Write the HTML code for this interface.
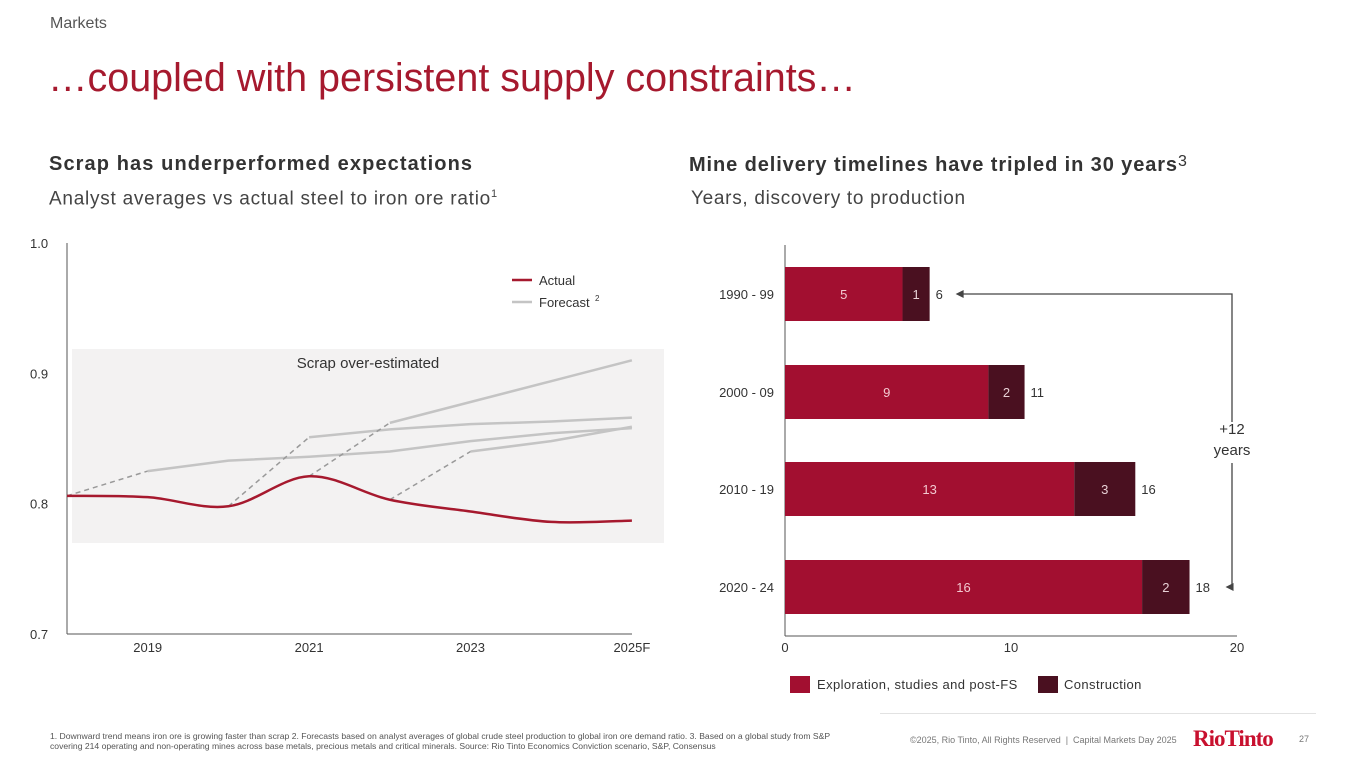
<!DOCTYPE html>
<html><head><meta charset="utf-8"><style>
body{margin:0;width:1365px;height:768px;background:#fff;font-family:"Liberation Sans",sans-serif;overflow:hidden;position:relative}
.t{position:absolute;white-space:nowrap}
</style></head><body>
<div class="t" style="left:50px;top:15px;font-size:16px;color:#555">Markets</div>
<div class="t" style="left:48px;top:56px;font-size:39.5px;color:#A6192E">…coupled with persistent supply constraints…</div>
<div class="t" style="left:49px;top:153px;font-size:20px;font-weight:bold;color:#333;letter-spacing:1.1px">Scrap has underperformed expectations</div>
<div class="t" style="left:49px;top:188px;font-size:19px;color:#444;letter-spacing:0.75px">Analyst averages vs actual steel to iron ore ratio<sup style="font-size:11px">1</sup></div>
<div class="t" style="left:689px;top:153px;font-size:20px;font-weight:bold;color:#333;letter-spacing:0.9px">Mine delivery timelines have tripled in 30 years<span style="font-weight:normal;font-size:16px;vertical-align:5px">3</span></div>
<div class="t" style="left:691px;top:188px;font-size:19px;color:#444;letter-spacing:0.7px">Years, discovery to production</div>

<svg id="left" width="680" height="680" style="position:absolute;left:0;top:0" font-family="Liberation Sans, sans-serif"></svg>
<svg id="right" width="1365" height="720" style="position:absolute;left:0;top:0" font-family="Liberation Sans, sans-serif"></svg>

<div class="t" style="left:50px;top:731px;font-size:8.6px;color:#555;line-height:10px">1. Downward trend means iron ore is growing faster than scrap 2. Forecasts based on analyst averages of global crude steel production to global iron ore demand ratio. 3. Based on a global study from S&amp;P<br>covering 214 operating and non-operating mines across base metals, precious metals and critical minerals. Source: Rio Tinto Economics Conviction scenario, S&amp;P, Consensus</div>
<div style="position:absolute;left:880px;top:713px;width:436px;height:1px;background:#e2e2e2"></div>
<div class="t" style="left:910px;top:735px;font-size:9px;color:#777">©2025, Rio Tinto, All Rights Reserved &nbsp;|&nbsp; Capital Markets Day 2025</div>
<div class="t" style="left:1193px;top:726px;font-size:23px;font-weight:bold;font-family:'Liberation Serif',serif;color:#C8102E;letter-spacing:-1px">RioTinto</div>
<div class="t" style="left:1299px;top:734px;font-size:9px;color:#777">27</div>

<script>
// ---- Left chart data ----
const years=[2018,2019,2020,2021,2022,2023,2024,2025];
const xTickLabels=["2019","2021","2023","2025F"];
const xTickYears=[2019,2021,2023,2025];
const yTicks=[0.7,0.8,0.9,1.0];
const actual=[0.806,0.805,0.798,0.821,0.803,0.794,0.786,0.787];
const f1Years=[2019,2020,2021,2022,2023,2024,2025], f1=[0.825,0.833,0.836,0.840,0.848,0.854,0.858], f1Start=2018;
const f2Years=[2021,2022,2023,2024,2025], f2=[0.851,0.857,0.861,0.863,0.866], f2Start=2020;
const f3Years=[2022,2023,2024,2025], f3=[0.862,0.878,0.894,0.910], f3Start=2021;
const f4Years=[2023,2024,2025], f4=[0.840,0.848,0.859], f4Start=2022;

// ---- Right chart data ----
const periods=["1990 - 99","2000 - 09","2010 - 19","2020 - 24"];
const exploration=[5.2,9.0,12.8,15.8];
const construction=[1.2,1.6,2.7,2.1];
const xTicksR=[0,10,20];

const NS="http://www.w3.org/2000/svg";
function mk(svg,tag,attrs,txt){const e=document.createElementNS(NS,tag);for(const k in attrs)e.setAttribute(k,attrs[k]);if(txt!==undefined)e.textContent=txt;svg.appendChild(e);return e;}

// Left
const L=document.getElementById('left');
const xL=y=>67+(y-2018)*80.7;
const yL=v=>634-(v-0.7)/0.3*391;
let e;
e=mk(L,'rect',{x:72,y:349,width:592,height:194,fill:'#F3F2F2'});


e=mk(L,'text',{x:368,y:368,'font-size':15,fill:'#333','text-anchor':'middle'},'Scrap over-estimated');


mk(L,'line',{x1:67,y1:243,x2:67,y2:634,stroke:'#555','stroke-width':1});
mk(L,'line',{x1:67,y1:634,x2:632,y2:634,stroke:'#555','stroke-width':1});
yTicks.forEach(v=>{e=mk(L,'text',{x:30,y:yL(v)+5,'font-size':13,fill:'#333'},v.toFixed(1));

});
xTickYears.forEach((y,i)=>{e=mk(L,'text',{x:xL(y),y:652,'font-size':13,fill:'#333','text-anchor':'middle'},xTickLabels[i]);

});
function val(arr,yrs,y){return arr[yrs.indexOf(y)];}
[[f1Years,f1,f1Start],[f2Years,f2,f2Start],[f3Years,f3,f3Start],[f4Years,f4,f4Start]].forEach(([ys,vs,s],i)=>{
  const sv=val(actual,years,s);
  e=mk(L,'line',{x1:xL(s),y1:yL(sv),x2:xL(ys[0]),y2:yL(vs[0]),stroke:'#999','stroke-width':1.5,'stroke-dasharray':'5,4'});
  
  
  e=mk(L,'polyline',{points:ys.map((y,j)=>xL(y)+','+yL(vs[j])).join(' '),fill:'none',stroke:'#C4C4C4','stroke-width':2.5});
  
  
});
const pts=years.map((y,i)=>[xL(y),yL(actual[i])]);
let d='M'+pts[0].join(',');
for(let i=0;i<pts.length-1;i++){const p0=pts[i-1]||pts[i],p1=pts[i],p2=pts[i+1],p3=pts[i+2]||p2;
d+=` C${p1[0]+(p2[0]-p0[0])/6},${p1[1]+(p2[1]-p0[1])/6} ${p2[0]-(p3[0]-p1[0])/6},${p2[1]-(p3[1]-p1[1])/6} ${p2[0]},${p2[1]}`;}
e=mk(L,'path',{d:d,fill:'none',stroke:'#A6192E','stroke-width':2.5});


mk(L,'line',{x1:512,y1:280,x2:532,y2:280,stroke:'#A6192E','stroke-width':2.5});
e=mk(L,'text',{x:539,y:285,'font-size':13,fill:'#333'},'Actual');


mk(L,'line',{x1:512,y1:302,x2:532,y2:302,stroke:'#C4C4C4','stroke-width':2.5});
e=mk(L,'text',{x:539,y:307,'font-size':13,fill:'#333'},'Forecast');


mk(L,'text',{x:595,y:301,'font-size':8,fill:'#333'},'2');

// Right
const R=document.getElementById('right');
const xR=v=>785+v*22.6;
const barTop=[267,365,462,560], bh=54;
mk(R,'line',{x1:785,y1:245,x2:785,y2:636,stroke:'#555'});
mk(R,'line',{x1:785,y1:636,x2:1237,y2:636,stroke:'#555'});
xTicksR.forEach(v=>{e=mk(R,'text',{x:xR(v),y:652,'font-size':13,fill:'#333','text-anchor':'middle'},String(v));

});
periods.forEach((p,i)=>{
  const t=barTop[i], a=exploration[i], c=construction[i], cy=t+bh/2+5;
  e=mk(R,'text',{x:774,y:cy,'font-size':13,fill:'#333','text-anchor':'end'},p);
  
  
  e=mk(R,'rect',{x:xR(0),y:t,width:xR(a)-xR(0),height:bh,fill:'#A20F30'});
  
  
  e=mk(R,'rect',{x:xR(a),y:t,width:xR(a+c)-xR(a),height:bh,fill:'#4A1020'});
  
  
  mk(R,'text',{x:(xR(0)+xR(a))/2,y:cy,'font-size':13,fill:'#F2C9D0','text-anchor':'middle'},String(Math.round(a)));
  mk(R,'text',{x:(xR(a)+xR(a+c))/2,y:cy,'font-size':13,fill:'#E8D0D5','text-anchor':'middle'},String(Math.round(c)));
  e=mk(R,'text',{x:xR(a+c)+6,y:cy,'font-size':13,fill:'#333'},String(Math.round(a+c)));
  
  
});
const y1=barTop[0]+bh/2, y2=barTop[3]+bh/2;
const x1=xR(exploration[0]+construction[0])+26, x2=xR(exploration[3]+construction[3])+36;
e=mk(R,'path',{d:`M${x1+6},${y1} H1232 V422 M1232,463 V${y2} H${x2+6}`,fill:'none',stroke:'#444','stroke-width':1.3});


mk(R,'path',{d:`M${x1},${y1} l8,-4 v8 z`,fill:'#444'});
mk(R,'path',{d:`M${x2},${y2} l8,-4 v8 z`,fill:'#444'});
e=mk(R,'text',{x:1232,y:434,'font-size':15,fill:'#333','text-anchor':'middle'},'+12');


mk(R,'text',{x:1232,y:455,'font-size':15,fill:'#333','text-anchor':'middle'},'years');
e=mk(R,'rect',{x:790,y:676,width:20,height:17,fill:'#A20F30'});


mk(R,'text',{x:817,y:689,'font-size':13,fill:'#333','letter-spacing':'0.4'},'Exploration, studies and post-FS');
e=mk(R,'rect',{x:1038,y:676,width:20,height:17,fill:'#4A1020'});


mk(R,'text',{x:1064,y:689,'font-size':13,fill:'#333','letter-spacing':'0.4'},'Construction');
</script>
</body></html>
